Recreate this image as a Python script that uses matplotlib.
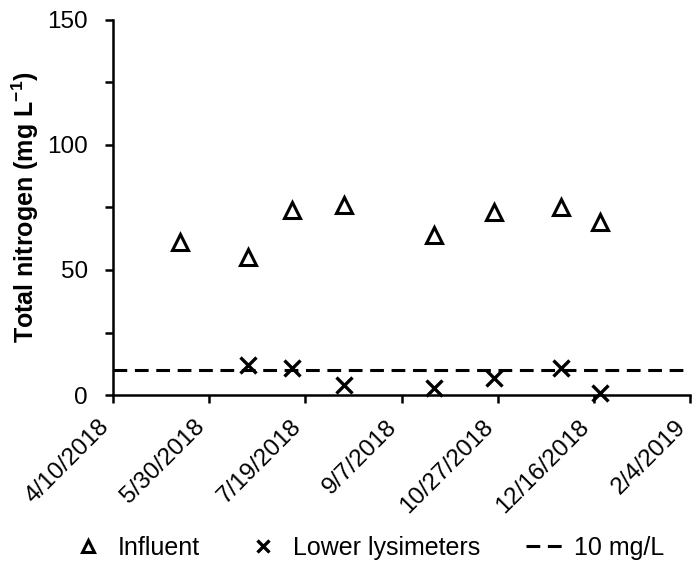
import datetime as dt
import matplotlib
matplotlib.use("Agg")
import matplotlib.pyplot as plt
import matplotlib.dates as mdates
from matplotlib.ticker import MultipleLocator, FuncFormatter

plt.rcParams['font.family'] = ['Liberation Sans', 'DejaVu Sans']
plt.rcParams['mathtext.fontset'] = 'custom'
plt.rcParams['mathtext.rm'] = 'Liberation Sans'
plt.rcParams['mathtext.bf'] = 'Liberation Sans:bold'

# sampling dates and values
influent_dates = ["2018-05-15", "2018-06-19", "2018-07-12", "2018-08-08",
                  "2018-09-24", "2018-10-25", "2018-11-29", "2018-12-19"]
influent_tn = [61, 55, 74, 76, 64, 73, 75, 69]

lower_dates = ["2018-06-19", "2018-07-12", "2018-08-08", "2018-09-24",
               "2018-10-25", "2018-11-29", "2018-12-19"]
lower_tn = [12, 11, 4, 3, 7, 11, 1]

limit = 10
x_start = "2018-04-10"
x_end = "2019-02-04"
tick_step_days = 50


def to_dates(lst):
    return [dt.datetime.strptime(s, "%Y-%m-%d") for s in lst]


fig = plt.figure(figsize=(6.96, 5.70), dpi=100)
ax = fig.add_axes([0.1624, 0.307, 0.829, 0.658])

ax.plot(to_dates(influent_dates), influent_tn, linestyle='none', marker='^',
        markersize=11, markerfacecolor='white', markeredgecolor='black',
        markeredgewidth=2.2, label='Influent', clip_on=False)
ax.plot(to_dates(lower_dates), lower_tn, linestyle='none', marker='x',
        markersize=11, color='black', markeredgewidth=2.4,
        label='Lower lysimeters', clip_on=False)

d0 = dt.datetime.strptime(x_start, "%Y-%m-%d")
d1 = dt.datetime.strptime(x_end, "%Y-%m-%d")
ax.axhline(limit, color='black', linestyle=(0, (4.5, 2.5)), linewidth=2.2,
           label='10 mg/L', zorder=1)

ax.set_xlim(d0, d1)
ax.set_ylim(0, 150)

ticks = []
d = d0
while d <= d1:
    ticks.append(d)
    d += dt.timedelta(days=tick_step_days)
ax.set_xticks(ticks)
ax.xaxis.set_major_formatter(FuncFormatter(
    lambda v, pos: "{0.month}/{0.day}/{0.year}".format(mdates.num2date(v))))
plt.setp(ax.get_xticklabels(), rotation=45, ha='right', va='top')

ax.yaxis.set_major_locator(MultipleLocator(50))
ax.yaxis.set_minor_locator(MultipleLocator(25))

for s in ['top', 'right']:
    ax.spines[s].set_visible(False)
for s in ['left', 'bottom']:
    ax.spines[s].set_linewidth(1.8)

ax.tick_params(axis='both', which='both', direction='out', length=6,
               width=1.8, labelsize=17.5, color='black')
ax.tick_params(axis='y', pad=12)
ax.tick_params(axis='x', pad=9)

ax.set_ylabel(r"Total nitrogen (mg L$^{\mathbf{-1}}$)", fontsize=18,
              fontweight='bold')
ax.yaxis.set_label_coords(-0.125, 0.5)

fig.legend(loc='center', bbox_to_anchor=(0.527, 0.039), ncol=3,
           frameon=False, fontsize=18, handlelength=1.5, columnspacing=1.8,
           handletextpad=0.45, markerscale=0.75, borderpad=0)

fig.savefig("out.png", dpi=100)
